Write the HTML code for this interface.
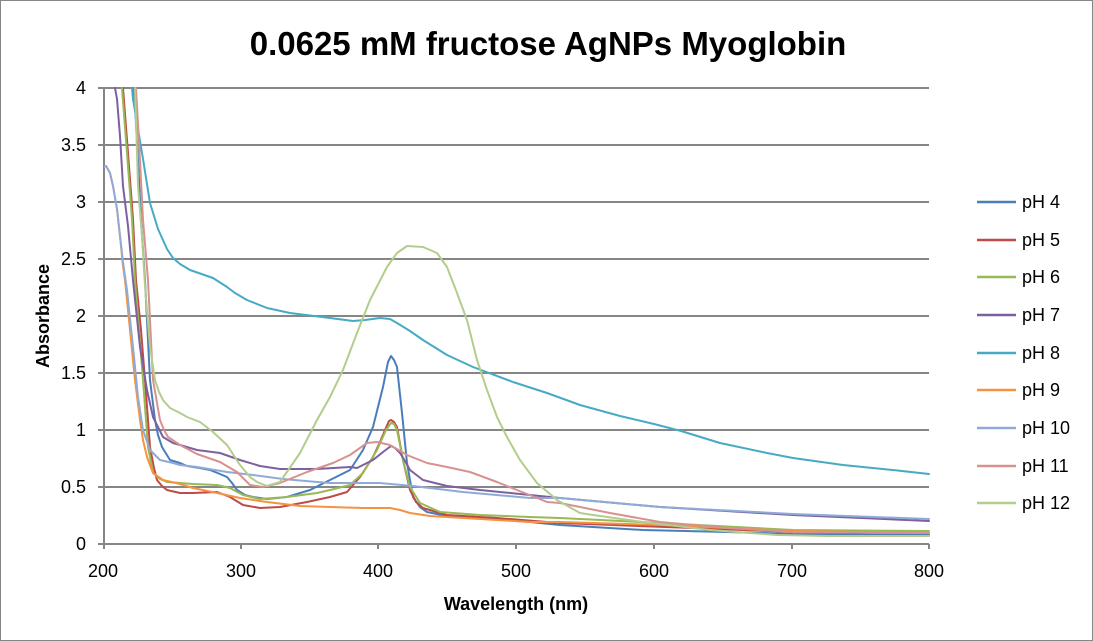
<!DOCTYPE html>
<html>
<head>
<meta charset="utf-8">
<style>
html,body{margin:0;padding:0;background:#fff;}
svg{display:block;}
text{font-family:"Liberation Sans",sans-serif;fill:#000;}
</style>
</head>
<body>
<svg width="1093" height="641" viewBox="0 0 1093 641" xmlns="http://www.w3.org/2000/svg">
<rect x="0.5" y="0.5" width="1092" height="640" fill="#fff" stroke="#868686" stroke-width="1"/>
<text x="548" y="55" font-size="33" font-weight="bold" text-anchor="middle">0.0625 mM fructose AgNPs Myoglobin</text>

<g stroke="#868686" stroke-width="2">
<line x1="98" y1="88" x2="929" y2="88"/>
<line x1="98" y1="145" x2="929" y2="145"/>
<line x1="98" y1="202" x2="929" y2="202"/>
<line x1="98" y1="259" x2="929" y2="259"/>
<line x1="98" y1="316" x2="929" y2="316"/>
<line x1="98" y1="373" x2="929" y2="373"/>
<line x1="98" y1="430" x2="929" y2="430"/>
<line x1="98" y1="487" x2="929" y2="487"/>
<line x1="98" y1="544" x2="929" y2="544"/>
<line x1="104" y1="88" x2="104" y2="549"/>
<line x1="241" y1="544" x2="241" y2="549"/>
<line x1="378" y1="544" x2="378" y2="549"/>
<line x1="516" y1="544" x2="516" y2="549"/>
<line x1="654" y1="544" x2="654" y2="549"/>
<line x1="792" y1="544" x2="792" y2="549"/>
<line x1="929" y1="544" x2="929" y2="549"/>
</g>

<g font-size="18" text-anchor="end">
<text x="86" y="94">4</text>
<text x="86" y="151">3.5</text>
<text x="86" y="208">3</text>
<text x="86" y="265">2.5</text>
<text x="86" y="322">2</text>
<text x="86" y="379">1.5</text>
<text x="86" y="436">1</text>
<text x="86" y="493">0.5</text>
<text x="86" y="550">0</text>
</g>
<g font-size="18" text-anchor="middle">
<text x="103" y="577">200</text>
<text x="241" y="577">300</text>
<text x="378" y="577">400</text>
<text x="516" y="577">500</text>
<text x="654" y="577">600</text>
<text x="792" y="577">700</text>
<text x="929" y="577">800</text>
</g>
<text x="516" y="610" font-size="18" font-weight="bold" text-anchor="middle">Wavelength (nm)</text>
<text transform="translate(49,316) rotate(-90)" font-size="18" font-weight="bold" text-anchor="middle">Absorbance</text>

<defs><clipPath id="pa"><rect x="104" y="87" width="826" height="460"/></clipPath></defs>
<g clip-path="url(#pa)" fill="none" stroke-width="2" stroke-linejoin="round" stroke-linecap="round">
<polyline stroke="#4A7EBB" points="134,88 138,160 141,220 145,280 150,380 155,420 158,435 162,447 170,460 180,463 187,466 200,468 210,470 220,474 227,477 232,483 237,490 245,495 253,497 267,499 287,497 310,490 330,480 350,470 363,450 373,427 383,387 388,362 391,356 394,360 397,367 402,413 407,463 413,497 420,507 427,512 447,516 480,518 530,522 560,525 643,530 727,532 793,534 929,535"/>
<polyline stroke="#BE4B48" points="123,88 128,153 133,219 136,280 141,330 145,380 150,447 154,468 157,480 162,486 167,490 180,493 193,493 217,492 230,497 243,505 260,508 280,507 307,502 330,497 347,492 360,477 373,457 380,442 385,430 389,421 391,420 394,422 397,427 403,460 410,490 416,502 423,508 447,515 497,518 560,523 693,528 793,532 929,533"/>
<polyline stroke="#98B954" points="122,88 127,153 132,219 135,280 139,330 143,380 148,447 153,473 160,479 167,482 180,483 193,484 217,485 230,488 243,495 260,499 287,497 317,493 330,490 350,485 363,473 377,450 386,430 391,423 394,424 397,430 403,460 410,487 420,503 440,512 480,515 530,517 560,518 660,523 793,530 929,531"/>
<polyline stroke="#7D60A0" points="115,88 117,99 120,136 123,186 128,226 133,280 140,347 147,390 153,417 163,437 173,443 180,445 197,450 220,453 240,460 260,466 280,469 317,469 350,467 357,468 373,460 383,452 391,446 395,448 400,453 405,461 410,470 423,480 447,486 480,490 530,495 560,498 660,507 793,515 929,521"/>
<polyline stroke="#46AAC5" points="132,88 133,99 138,129 143,159 150,203 158,229 167,249 173,258 180,264 190,270 213,278 227,287 235,293 247,300 267,308 290,313 330,318 353,321 365,320 380,318 390,319 397,323 410,331 423,340 447,355 473,367 513,382 547,393 580,405 620,416 654,424 681,431 720,443 767,453 793,458 843,465 893,470 929,474"/>
<polyline stroke="#F69240" points="104,167 106,166 110,173 113,186 117,209 120,236 123,266 125,280 130,330 135,380 140,420 143,440 147,457 153,473 163,480 180,484 193,488 217,493 240,498 267,502 300,506 330,507 363,508 390,508 400,510 410,513 430,516 480,519 530,522 560,522 660,525 793,531 929,533"/>
<polyline stroke="#8EAAD6" points="104,167 106,166 110,173 113,186 117,209 120,236 123,262 127,290 133,347 138,397 143,430 150,450 160,460 173,463 180,465 197,467 227,472 253,475 283,479 317,482 330,483 380,483 413,486 463,492 530,498 560,498 660,507 793,514 929,519"/>
<polyline stroke="#D7918F" points="136,88 140,160 143,220 148,280 153,380 160,420 164,430 168,437 180,445 197,454 220,462 237,472 250,485 263,487 280,483 307,472 333,463 350,455 367,443 377,442 390,445 407,455 427,463 447,467 470,472 497,482 517,490 547,502 560,503 610,513 660,522 727,528 793,532 929,533"/>
<polyline stroke="#B2CD8C" points="135,88 138,186 142,236 145,286 150,347 155,380 159,392 163,400 170,408 180,413 187,417 200,422 213,432 227,445 240,465 250,477 257,482 267,486 280,482 300,453 317,420 330,397 343,370 357,333 370,300 387,267 397,253 407,246 423,247 437,253 447,267 457,293 467,320 477,360 487,390 497,417 507,437 520,460 537,483 557,500 580,513 593,515 643,522 710,530 777,535 827,536 929,536"/>
</g>

<g stroke-width="2.5">
<line x1="977" y1="202" x2="1016" y2="202" stroke="#4A7EBB"/>
<line x1="977" y1="240" x2="1016" y2="240" stroke="#BE4B48"/>
<line x1="977" y1="277" x2="1016" y2="277" stroke="#98B954"/>
<line x1="977" y1="315" x2="1016" y2="315" stroke="#7D60A0"/>
<line x1="977" y1="353" x2="1016" y2="353" stroke="#46AAC5"/>
<line x1="977" y1="390" x2="1016" y2="390" stroke="#F69240"/>
<line x1="977" y1="428" x2="1016" y2="428" stroke="#8EAAD6"/>
<line x1="977" y1="466" x2="1016" y2="466" stroke="#D7918F"/>
<line x1="977" y1="503" x2="1016" y2="503" stroke="#B2CD8C"/>
</g>
<g font-size="18">
<text x="1022" y="208">pH 4</text>
<text x="1022" y="246">pH 5</text>
<text x="1022" y="283">pH 6</text>
<text x="1022" y="321">pH 7</text>
<text x="1022" y="359">pH 8</text>
<text x="1022" y="396">pH 9</text>
<text x="1022" y="434">pH 10</text>
<text x="1022" y="472">pH 11</text>
<text x="1022" y="509">pH 12</text>
</g>
</svg>
</body>
</html>
